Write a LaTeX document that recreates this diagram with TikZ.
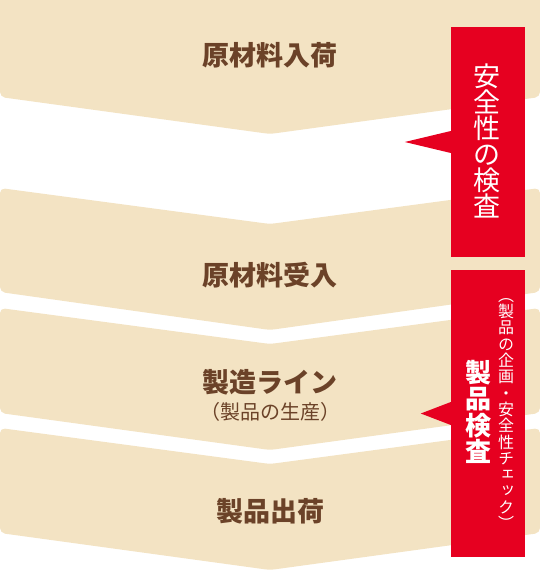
\documentclass[tikz,border=0pt]{standalone}
\usepackage{fontspec}
\usepackage{xcolor}
\usepackage{tikz}
\usetikzlibrary{positioning,calc}

\newfontfamily\jp{Noto Sans CJK JP}
\newfontfamily\jpv[RawFeature=+vert]{Noto Sans CJK JP}

\definecolor{beige}{HTML}{F3E3C3}
\definecolor{brownish}{HTML}{6B4228}
\definecolor{alarm}{HTML}{E60020}

\begin{document}
\begin{tikzpicture}[x=1pt,y=-1pt]
\tikzstyle{chevron}=[fill=beige, rounded corners=5pt]
\tikzstyle{stage}=[text=brownish, font=\jp\bfseries\fontsize{27}{30}\selectfont, inner sep=0pt]
\tikzstyle{redbox}=[fill=alarm, minimum width=74pt, inner sep=0pt]
\tikzstyle{vtext}=[text=white, align=center, inner sep=0pt]
\useasboundingbox (0,0) rectangle (540,570);

% stages
\fill[chevron] (0,-6) -- (540,-6) -- (540,97) -- (270,134) -- (0,97) -- cycle;
\fill[chevron] (0,188) -- (270,224) -- (540,188) -- (540,292) -- (270,330) -- (0,292) -- cycle;
\fill[chevron] (0,308) -- (270,344) -- (540,308) -- (540,413) -- (270,450) -- (0,413) -- cycle;
\fill[chevron] (0,428) -- (270,464) -- (540,428) -- (540,533) -- (270,570) -- (0,533) -- cycle;

\node[stage] (arrival) at (270,55) {原材料入荷};
\node[stage] (accept) at (270,275) {原材料受入};
\node[stage] (line) at (270,382) {製造ライン};
\node[text=brownish, font=\jp\fontsize{20}{22}\selectfont, below=7pt of line, inner sep=0pt] (prod) {（製品の生産）};
\node[stage] (ship) at (270,511) {製品出荷};

% inspections
\node[redbox, minimum height=230pt] (safety) at (488,142) {};
\fill[alarm] ($(safety.west)+(0,-11)$) -- ++(-46,11) -- ($(safety.west)+(0,11)$) -- cycle;
\node[vtext, font=\jp\fontsize{27}{26}\selectfont] (safetytxt) at (487,141) {安\\全\\性\\の\\検\\査};

\node[redbox, minimum height=287pt] (product) at (488,413.5) {};
\fill[alarm] ($(product.west)+(0,-11.5)$) -- ++(-30,11.5) -- ($(product.west)+(0,11.5)$) -- cycle;
\node[vtext, font=\jp\bfseries\fontsize{26}{26.5}\selectfont] (producttxt) at (478,412) {製\\品\\検\\査};
\node[vtext, font=\jpv\fontsize{16}{16.3}\selectfont] (notetxt) at (506,414) {（\\製\\品\\の\\企\\画\\・\\安\\全\\性\\チ\\ェ\\ッ\\ク\\）};
\end{tikzpicture}
\end{document}
